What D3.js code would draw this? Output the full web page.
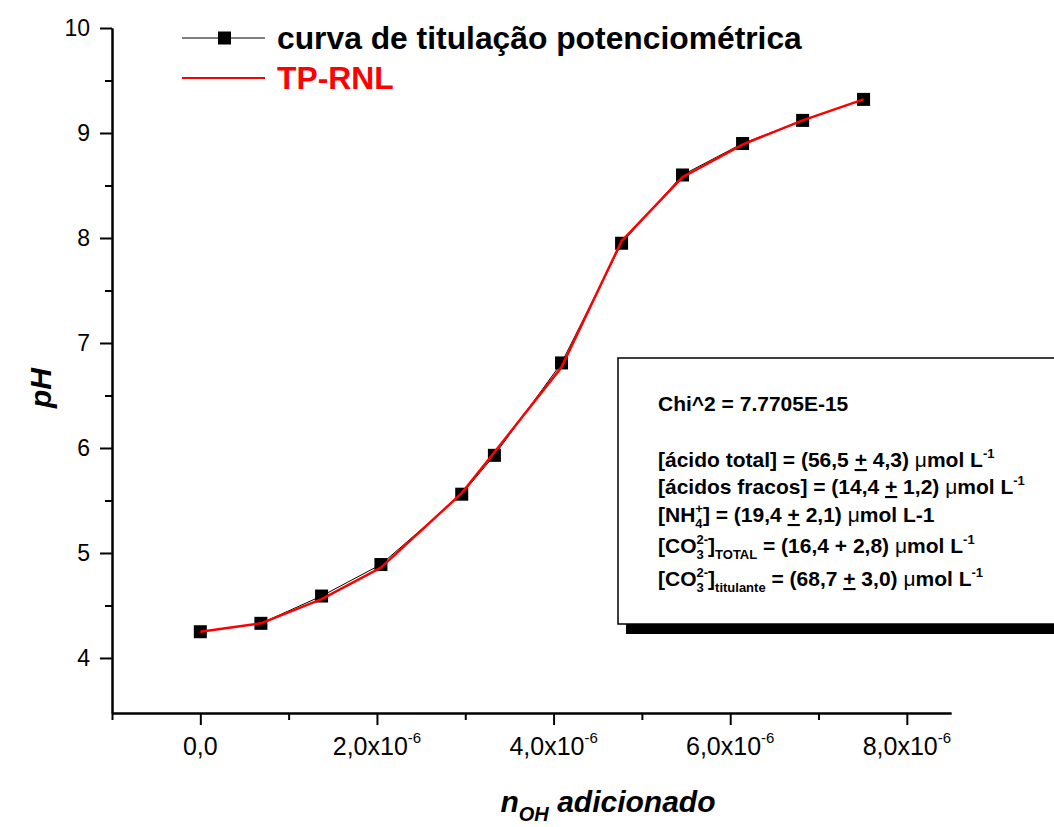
<!DOCTYPE html>
<html>
<head>
<meta charset="utf-8">
<script src="https://cdn.jsdelivr.net/npm/d3@7"></script>
<style>
  body { margin: 0; background: #fff; }
  svg { display: block; font-family: "Liberation Sans", Arial, sans-serif; }
</style>
</head>
<body>
<div id="chart"></div>
<script>
// titration data
var nOH = [0, 0.686e-6, 1.373e-6, 2.045e-6, 2.96e-6, 3.33e-6, 4.09e-6, 4.77e-6, 5.46e-6, 6.14e-6, 6.82e-6, 7.51e-6];
var pHexp = [4.25, 4.33, 4.59, 4.89, 5.56, 5.93, 6.81, 7.95, 8.60, 8.90, 9.12, 9.32];
var pHfit = [4.25, 4.33, 4.56, 4.86, 5.57, 5.96, 6.77, 7.97, 8.58, 8.89, 9.12, 9.32];

var xMajor = [0, 2e-6, 4e-6, 6e-6, 8e-6];
var xMajorLabels = ["0,0", "2,0x10", "4,0x10", "6,0x10", "8,0x10"];
var xMinor = [-1e-6, 1e-6, 3e-6, 5e-6, 7e-6];
var yMajor = [4, 5, 6, 7, 8, 9, 10];
var yMinor = [4.5, 5.5, 6.5, 7.5, 8.5, 9.5];

var legendLabels = ["curva de titulação potenciométrica", "TP-RNL"];

var svgWidth = 1054;
var svgHeight = 827;

var svg = d3.select("#chart")
    .append("svg")
    .attr("width", svgWidth)
    .attr("height", svgHeight);

var x = d3.scaleLinear().domain([-1e-6, 8.5e-6]).range([112, 951]);
var y = d3.scaleLinear().domain([3.476, 10]).range([713, 28]);

// box with the fit results (drawn first so the curve stays on top)
svg.append("rect")
    .attr("x", 626).attr("y", 366)
    .attr("width", 500).attr("height", 268)
    .attr("fill", "#000");
svg.append("rect")
    .attr("x", 618).attr("y", 358)
    .attr("width", 500).attr("height", 266)
    .attr("fill", "#fff")
    .attr("stroke", "#000")
    .attr("stroke-width", 1.5);

// axes
svg.append("g")
    .attr("transform", "translate(0,713)")
    .call(d3.axisBottom(x).tickValues(xMajor).tickSize(12).tickSizeOuter(0).tickFormat(""));
svg.append("g")
    .attr("transform", "translate(0,713)")
    .call(d3.axisBottom(x).tickValues(xMinor).tickSize(7).tickSizeOuter(0).tickFormat(""));

var yAxis = svg.append("g")
    .attr("transform", "translate(112,0)")
    .call(d3.axisLeft(y).tickValues(yMajor).tickSize(12).tickSizeOuter(0).tickPadding(10).tickFormat(d3.format("d")));
svg.append("g")
    .attr("transform", "translate(112,0)")
    .call(d3.axisLeft(y).tickValues(yMinor).tickSize(7).tickSizeOuter(0).tickFormat(""));

svg.selectAll(".domain, .tick line")
    .attr("stroke", "#000")
    .attr("stroke-width", 2);

yAxis.selectAll("text")
    .attr("font-size", 23)
    .attr("fill", "#000")
    .style("font-family", "Liberation Sans, Arial, sans-serif");

// x tick labels with exponent, whole label centred on its tick
xMajor.forEach(function(v, i) {
    var t = svg.append("text")
        .attr("x", x(v))
        .attr("y", 755)
        .attr("text-anchor", "middle")
        .attr("font-size", 25)
        .attr("fill", "#000");
    t.append("tspan").text(xMajorLabels[i]);
    if (i > 0) {
        t.append("tspan")
            .attr("font-size", 15)
            .attr("dy", -12)
            .text("-6");
    }
});

// axis titles
var xTitle = svg.append("text")
    .attr("x", 608)
    .attr("y", 812)
    .attr("text-anchor", "middle")
    .attr("font-size", 30)
    .attr("font-weight", "bold")
    .attr("font-style", "italic")
    .attr("fill", "#000");
xTitle.append("tspan").text("n");
xTitle.append("tspan").attr("font-size", 20).attr("dy", 9).text("OH");
xTitle.append("tspan").attr("dy", -9).text(" adicionado");

svg.append("text")
    .attr("transform", "translate(51,388) rotate(-90)")
    .attr("text-anchor", "middle")
    .attr("font-size", 30)
    .attr("font-weight", "bold")
    .attr("font-style", "italic")
    .attr("fill", "#000")
    .text("pH");

// curves
var pts = nOH.map(function(d, i) { return { n: d, ph: pHexp[i], fit: pHfit[i] }; });

svg.append("path")
    .datum(pts)
    .attr("fill", "none")
    .attr("stroke", "#000")
    .attr("stroke-width", 1)
    .attr("d", d3.line().x(d => x(d.n)).y(d => y(d.ph)));

svg.selectAll("rect.pt")
    .data(pts)
    .enter()
    .append("rect")
    .attr("class", "pt")
    .attr("x", d => x(d.n) - 6.5)
    .attr("y", d => y(d.ph) - 6.5)
    .attr("width", 13)
    .attr("height", 13)
    .attr("fill", "#000");

svg.append("path")
    .datum(pts)
    .attr("fill", "none")
    .attr("stroke", "#ff0000")
    .attr("stroke-width", 2.5)
    .attr("stroke-linejoin", "round")
    .attr("d", d3.line().x(d => x(d.n)).y(d => y(d.fit)));

// legend
svg.append("line")
    .attr("x1", 182).attr("x2", 265).attr("y1", 38).attr("y2", 38)
    .attr("stroke", "#000").attr("stroke-width", 1);
svg.append("rect")
    .attr("x", 218).attr("y", 31.5).attr("width", 13).attr("height", 13)
    .attr("fill", "#000");
svg.append("text")
    .attr("x", 277).attr("y", 49)
    .attr("font-size", 31.8).attr("font-weight", "bold")
    .attr("fill", "#000")
    .text(legendLabels[0]);
svg.append("line")
    .attr("x1", 182).attr("x2", 265).attr("y1", 78).attr("y2", 78)
    .attr("stroke", "#ff0000").attr("stroke-width", 2);
svg.append("text")
    .attr("x", 277).attr("y", 89)
    .attr("font-size", 31.8).attr("font-weight", "bold")
    .attr("fill", "#ff0000")
    .text(legendLabels[1]);

// fit results text
// segment: [text, kind] kind: "" normal, "sub", "sup", "supk" sup stacked over sub, "u" underlined, "mu"
var boxLines = [
    { y: 411, segs: [["Chi^2 = 7.7705E-15", ""]] },
    { y: 467, segs: [["[ácido total] = (56,5 ", ""], ["+", "u"], [" 4,3) ", ""], ["μ", "mu"], ["mol L", ""], ["-1", "sup"]] },
    { y: 494, segs: [["[ácidos fracos] = (14,4 ", ""], ["+", "u"], [" 1,2) ", ""], ["μ", "mu"], ["mol L", ""], ["-1", "sup"]] },
    { y: 522, segs: [["[NH", ""], ["4", "sub"], ["+", "supk"], ["] = (19,4 ", ""], ["+", "u"], [" 2,1) ", ""], ["μ", "mu"], ["mol L-1", ""]] },
    { y: 553, segs: [["[CO", ""], ["3", "sub"], ["2-", "supk"], ["]", ""], ["TOTAL", "sub"], [" = (16,4 + 2,8) ", ""], ["μ", "mu"], ["mol L", ""], ["-1", "sup"]] },
    { y: 586, segs: [["[CO", ""], ["3", "sub"], ["2-", "supk"], ["]", ""], ["titulante", "sub"], [" = (68,7 ", ""], ["+", "u"], [" 3,0) ", ""], ["μ", "mu"], ["mol L", ""], ["-1", "sup"]] }
];

boxLines.forEach(function(line) {
    var t = svg.append("text")
        .attr("x", 658).attr("y", line.y)
        .attr("font-size", 21).attr("font-weight", "bold")
        .attr("fill", "#000");
    var shift = 0;
    var lastSubW = 0;
    line.segs.forEach(function(s) {
        var ts = t.append("tspan").text(s[0]);
        var target = 0;
        if (s[1] === "sub") { target = 6; ts.attr("font-size", 13); }
        if (s[1] === "sup" || s[1] === "supk") { target = -9; ts.attr("font-size", 13); }
        if (s[1] === "mu") ts.attr("font-weight", "normal");
        if (s[1] === "u") ts.style("text-decoration", "underline");
        ts.attr("dy", target - shift);
        if (s[1] === "supk") ts.attr("dx", -lastSubW);
        if (s[1] === "sub") lastSubW = ts.node().getComputedTextLength();
        shift = target;
    });
});
</script>
</body>
</html>
